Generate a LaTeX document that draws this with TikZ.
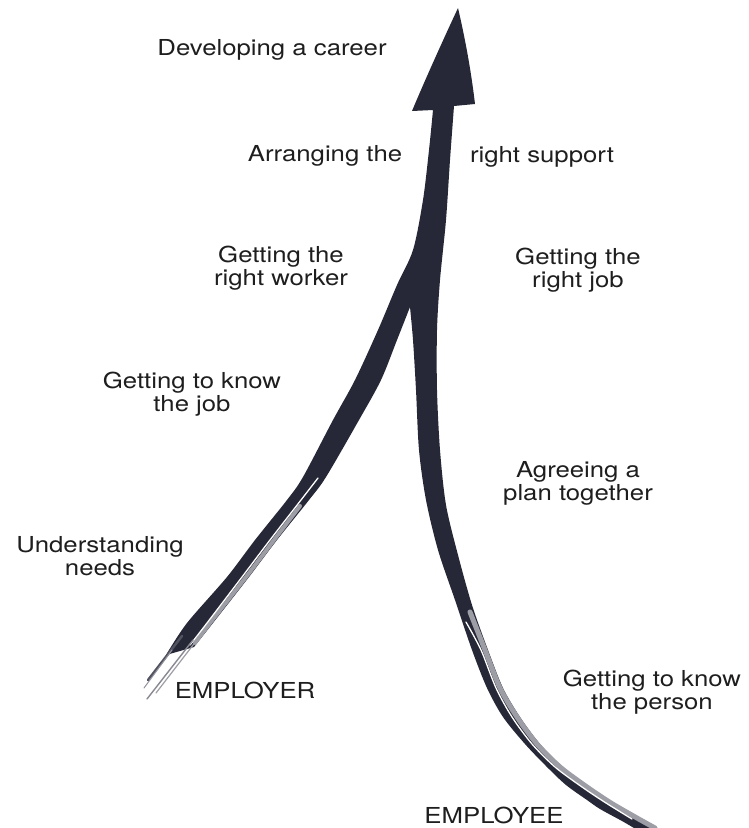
\documentclass[tikz,border=0pt]{standalone}
\usepackage{fontspec}
\setmainfont{TeX Gyre Heros}
\definecolor{ink}{RGB}{38,40,56}
\definecolor{txt}{RGB}{30,30,30}
\newcommand\lblfont{\fontsize{22}{23}\selectfont}
\newcommand\twolines[2]{\begin{tabular}[t]{@{}c@{}}#1\\#2\end{tabular}}
\begin{document}
\begin{tikzpicture}[x=1pt,y=-1pt,
  lbl/.style={font=\lblfont, text=txt, inner sep=0pt, anchor=base, xscale=1.17},
  streak/.style={white, line width=#1, line cap=round},
  band/.style={ink!45, line width=#1, line cap=round},
  bristle/.style={ink!#1, line cap=round}]
\useasboundingbox (0,0) rectangle (748,828);
\fill[white] (0,0) rectangle (748,828);

% the two brush strokes joining into one arrow
\fill[ink] (458,8) .. controls (465,38) and (471,70) .. (475,104) -- (454,106)
  -- plot[smooth] coordinates {(454,106) (450,160) (446,220) (440,280) (437,330)
       (437,390) (440,450) (446,505) (458,555) (472,605) (488,650) (503,688)
       (520,717) (540,744) (563,767) (590,787) (614,803) (640,818) (656,828)}
  -- plot[smooth] coordinates {(634,828) (622,821) (600,809) (587,800) (566,785)
       (547,767) (525,744) (503,717) (487,688) (472,650) (455,600) (438,550)
       (426,500) (419,450) (416,390) (413,340) (410,307)}
  -- plot[smooth] coordinates {(410,307) (397,340) (381,380) (359,420) (326,477)
       (309,500) (277,540) (249,577) (213,623) (194,647)}
  -- plot[smooth] coordinates {(166,655) (187,623) (227,577) (255,540) (287,500)
       (303,477) (333,420) (355,380) (378,330) (397,285) (413,250) (423,200)
       (429,150) (433,110)}
  -- (412,111) .. controls (425,80) and (443,40) .. (458,8) -- cycle;

% dry-brush texture, employee stroke
\draw[band=5pt] plot[smooth] coordinates {(470,612) (485,650) (500,688) (517,717)
  (537,744) (560,767) (587,787) (611,803) (637,818) (655,828)};
\draw[streak=1.3pt] plot[smooth] coordinates {(466,622) (481,650) (496,688) (512,717)
  (532,744) (555,767) (582,787) (606,803) (632,819)};

% dry-brush texture, employer stroke
\draw[band=4pt] plot[smooth] coordinates {(300,506) (274,540) (246,577) (210,623) (195,643)};
\draw[streak=1.3pt] plot[smooth] coordinates {(318,478) (301,500) (270,540) (242,577)
  (207,623) (190,645)};
\draw[bristle=80, line width=2.4pt] (182,636) -- (148,680);
\draw[bristle=55, line width=1.4pt] (193,640) -- (147,699);
\draw[bristle=45, line width=1.2pt] (200,636) -- (156,693);
\draw[bristle=50, line width=1pt] (172,650) -- (144,688);

% stage labels
\node[lbl] (career)   at (272,55)  {Developing a career};
\node[lbl] (arrange)  at (325,161) {Arranging the};
\node[lbl] (support)  at (542,162) {right support};
\node[lbl] (worker)   at (281,262) {\twolines{Getting the}{right worker}};
\node[lbl] (job)      at (578,264) {\twolines{Getting the}{right job}};
\node[lbl] (knowjob)  at (192,388) {\twolines{Getting to know}{the job}};
\node[lbl] (plan)     at (578,477) {\twolines{Agreeing a}{plan together}};
\node[lbl] (needs)    at (100,552) {\twolines{Understanding}{needs}};
\node[lbl] (person)   at (652,686) {\twolines{Getting to know}{the person}};
\node[lbl] (employer) at (245,698) {EMPLOYER};
\node[lbl] (employee) at (494,823) {EMPLOYEE};
\end{tikzpicture}
\end{document}
